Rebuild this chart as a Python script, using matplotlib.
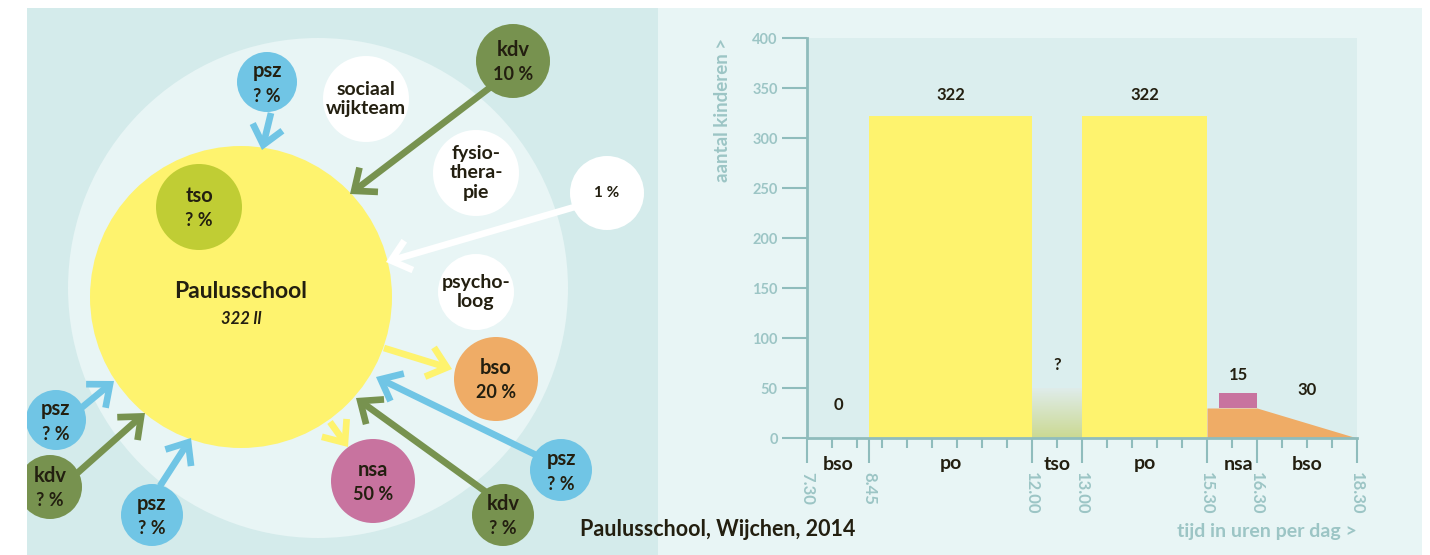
import matplotlib
matplotlib.use("Agg")
import matplotlib.pyplot as plt
import numpy as np
from matplotlib.patches import Circle, Rectangle, FancyArrowPatch
from matplotlib.colors import to_rgba

plt.rcParams['font.family'] = ['Lato', 'DejaVu Sans']

# ---------------- data ----------------
# diagram nodes (label, percentage)
node_labels = ['psz', 'kdv', 'tso', 'bso', 'nsa', 'psz', 'kdv', 'psz', 'kdv', 'psz']
node_pcts = ['? %', '10 %', '? %', '20 %', '50 %', '? %', '? %', '? %', '? %', '? %']
white_labels = ['sociaal\nwijkteam', 'fysio-\nthera-\npie', '1 %', 'psycho-\nloog']
school_name = 'Paulusschool'
school_pupils = '322 ll'

# timeline chart
seg_names = ['bso', 'po', 'tso', 'po', 'nsa', 'bso']
seg_start = [7.5, 8.75, 12.0, 13.0, 15.75, 16.5]
seg_end = [8.75, 12.0, 13.0, 15.5, 16.5, 18.5]
seg_labels = ['0', '322', '?', '322', '15', '30']
po_count = 322
tso_count_unknown = 50
bso_evening_times = [15.5, 16.5, 18.5]
bso_evening_counts = [30, 30, 0]
nsa_count = 15
time_ticks_major = [7.5, 8.75, 12.0, 13.0, 15.5, 16.5, 18.5]
time_tick_labels = ['7.30', '8.45', '12.00', '13.00', '15.30', '16.30', '18.30']
y_ticks = [0, 50, 100, 150, 200, 250, 300, 350, 400]

# ---------------- colours ----------------
C_LEFT = '#d4ebeb'
C_PALE = '#e8f5f5'
C_PLOT = '#dbeeee'
C_YEL = '#fef36e'
C_BLUE = '#70c5e5'
C_GREEN = '#77924f'
C_TSO = '#c0cd34'
C_ORANGE = '#efac66'
C_PINK = '#c8739f'
C_TXT = '#231f10'
C_AXIS = '#8fbcbc'
C_AXTXT = '#9cc5c5'

W, H = 1430, 555
fig = plt.figure(figsize=(W / 100, H / 100), dpi=100)
fig.patch.set_facecolor('white')

# full-figure pixel axes for the diagram
ax = fig.add_axes([0, 0, 1, 1])
ax.set_xlim(0, W)
ax.set_ylim(H, 0)
ax.axis('off')

left_panel = Rectangle((27, 8), 658 - 27, H - 8, facecolor=C_LEFT, edgecolor='none', zorder=0)
ax.add_patch(left_panel)
ax.add_patch(Rectangle((658, 8), 1422 - 658, H - 8, facecolor=C_PALE, edgecolor='none', zorder=0))

def clipped(p):
    ax.add_patch(p)
    p.set_clip_path(left_panel)
    return p

clipped(Circle((318, 288), 250, facecolor=C_PALE, edgecolor='none', zorder=1))
clipped(Circle((241, 297), 151, facecolor=C_YEL, edgecolor='none', zorder=2))

# arrows (start, end, colour)
arrows = [
    ((271, 113), (262, 150), C_BLUE),
    ((492, 86), (350, 194), C_GREEN),
    ((578, 206), (386, 262), 'white'),
    ((384, 348), (452, 369), C_YEL),
    ((330, 422), (348, 447), C_YEL),
    ((536, 455), (376, 377), C_BLUE),
    ((486, 492), (356, 398), C_GREEN),
    ((80, 409), (114, 381), C_BLUE),
    ((74, 476), (145, 413), C_GREEN),
    ((160, 486), (191, 438), C_BLUE),
]
for (p0, p1, col) in arrows:
    a = FancyArrowPatch(p0, p1, arrowstyle='->,head_length=0.6,head_width=0.5',
                        mutation_scale=22, color=col, lw=4.8, zorder=3,
                        shrinkA=0, shrinkB=0, capstyle='butt', joinstyle='miter')
    clipped(a)

# coloured nodes
node_pos = [(267, 82), (513, 61), (199, 207), (496, 379), (373, 481),
            (561, 470), (503, 515), (56, 420), (50, 487), (152, 515)]
node_r = [30, 37, 43, 42, 42, 31, 31, 30, 32, 31]
node_col = [C_BLUE, C_GREEN, C_TSO, C_ORANGE, C_PINK, C_BLUE, C_GREEN, C_BLUE, C_GREEN, C_BLUE]
for lab, pct, (cx, cy), r, col in zip(node_labels, node_pcts, node_pos, node_r, node_col):
    clipped(Circle((cx, cy), r, facecolor=col, edgecolor='none', zorder=4))
    t1 = ax.text(cx, cy - 11, lab, ha='center', va='center', fontsize=14.5,
                 fontweight='bold', color=C_TXT, zorder=5)
    t2 = ax.text(cx, cy + 14, pct, ha='center', va='center', fontsize=13,
                 fontweight='bold', color=C_TXT, zorder=5)
    t1.set_clip_path(left_panel)
    t2.set_clip_path(left_panel)

white_pos = [(366, 99), (476, 173), (607, 193), (476, 292)]
white_r = [43, 43, 37, 38]
for lab, (cx, cy), r in zip(white_labels, white_pos, white_r):
    clipped(Circle((cx, cy), r, facecolor='white', edgecolor='none', zorder=4))
    ax.text(cx, cy, lab, ha='center', va='center', fontsize=14 if lab != '1 %' else 11,
            fontweight='bold', color=C_TXT, linespacing=1.2, zorder=5)

ax.text(241, 291, school_name, ha='center', va='center', fontsize=16.5,
        fontweight='bold', color=C_TXT, zorder=5)
ax.text(241, 319, school_pupils, ha='center', va='center', fontsize=12,
        fontweight='bold', style='italic', color=C_TXT, zorder=5)

ax.text(580, 529, 'Paulusschool, Wijchen, 2014', ha='left', va='center', fontsize=15.5,
        fontweight='bold', color=C_TXT, zorder=6)
ax.text(1357, 531, 'tijd in uren per dag >', ha='right', va='center', fontsize=14,
        fontweight='bold', color=C_AXTXT, zorder=6)
ax.text(722, 38, 'aantal kinderen >', ha='center', va='top', rotation=90, fontsize=13.5,
        fontweight='bold', color=C_AXTXT, zorder=6)

# ---------------- bar chart ----------------
x0, y0, x1, y1 = 807, 38, 1357, 438
bx = fig.add_axes([x0 / W, (H - y1) / H, (x1 - x0) / W, (y1 - y0) / H])
bx.set_facecolor(C_PLOT)
for s in ['top', 'right']:
    bx.spines[s].set_visible(False)
for s in ['left', 'bottom']:
    bx.spines[s].set_color(C_AXIS)
    bx.spines[s].set_linewidth(2)

# po bars
for i in (1, 3):
    bx.bar(seg_start[i], po_count, width=seg_end[i] - seg_start[i], align='edge',
           color=C_YEL, edgecolor='none', zorder=2)
# tso gradient
n = 100
bot = np.array(to_rgba('#cbd992'))
top = np.array(to_rgba('#dfecea'))
t = np.linspace(0, 1, n)[:, None]
grad = (bot * (1 - t) + top * t)[:, None, :]
bx.imshow(grad, extent=[seg_start[2], seg_end[2], 0, tso_count_unknown], origin='lower',
          aspect='auto', zorder=2, interpolation='bilinear')
# bso evening
bx.fill_between(bso_evening_times, 0, bso_evening_counts, color=C_ORANGE, lw=0, zorder=2)
# nsa
bx.bar(seg_start[4], nsa_count, bottom=bso_evening_counts[0], width=seg_end[4] - seg_start[4],
       align='edge', color=C_PINK, edgecolor='none', zorder=2)
bx.set_xlim(7.5, 18.5)
bx.set_ylim(0, 400)

label_y = [33, 343, 73, 343, 63, 48]
for s0, s1, lab, ly in zip(seg_start, seg_end, seg_labels, label_y):
    bx.text((s0 + s1) / 2, ly, lab, ha='center', va='center', fontsize=12,
            fontweight='bold', color=C_TXT, zorder=5)

cat_x = [(a + b) / 2 for a, b in zip(seg_start, seg_end)]
for cx, name in zip(cat_x, seg_names):
    bx.text(cx, -26, name, ha='center', va='center', fontsize=14, fontweight='bold',
            color=C_TXT, clip_on=False)

bx.set_yticks(y_ticks)
bx.set_yticklabels([str(v) for v in y_ticks])
bx.tick_params(axis='y', length=18, width=1.5, color=C_AXIS, labelcolor=C_AXTXT,
               labelsize=10.5, pad=3)
for lab in bx.get_yticklabels():
    lab.set_fontweight('bold')

bx.set_xticks(time_ticks_major)
bx.set_xticklabels([])
minor = [h for h in np.arange(8.0, 18.5, 0.5) if h not in time_ticks_major]
bx.set_xticks(minor, minor=True)
bx.tick_params(axis='x', which='major', length=18, width=1.5, color=C_AXIS)
bx.tick_params(axis='x', which='minor', length=7, width=1.5, color=C_AXIS)
for tx, tl in zip(time_ticks_major, time_tick_labels):
    bx.text(tx, -34, tl, ha='center', va='top', rotation=-90, fontsize=12,
            fontweight='bold', color=C_AXTXT, clip_on=False)

fig.savefig('out.png', dpi=100, facecolor='white')
